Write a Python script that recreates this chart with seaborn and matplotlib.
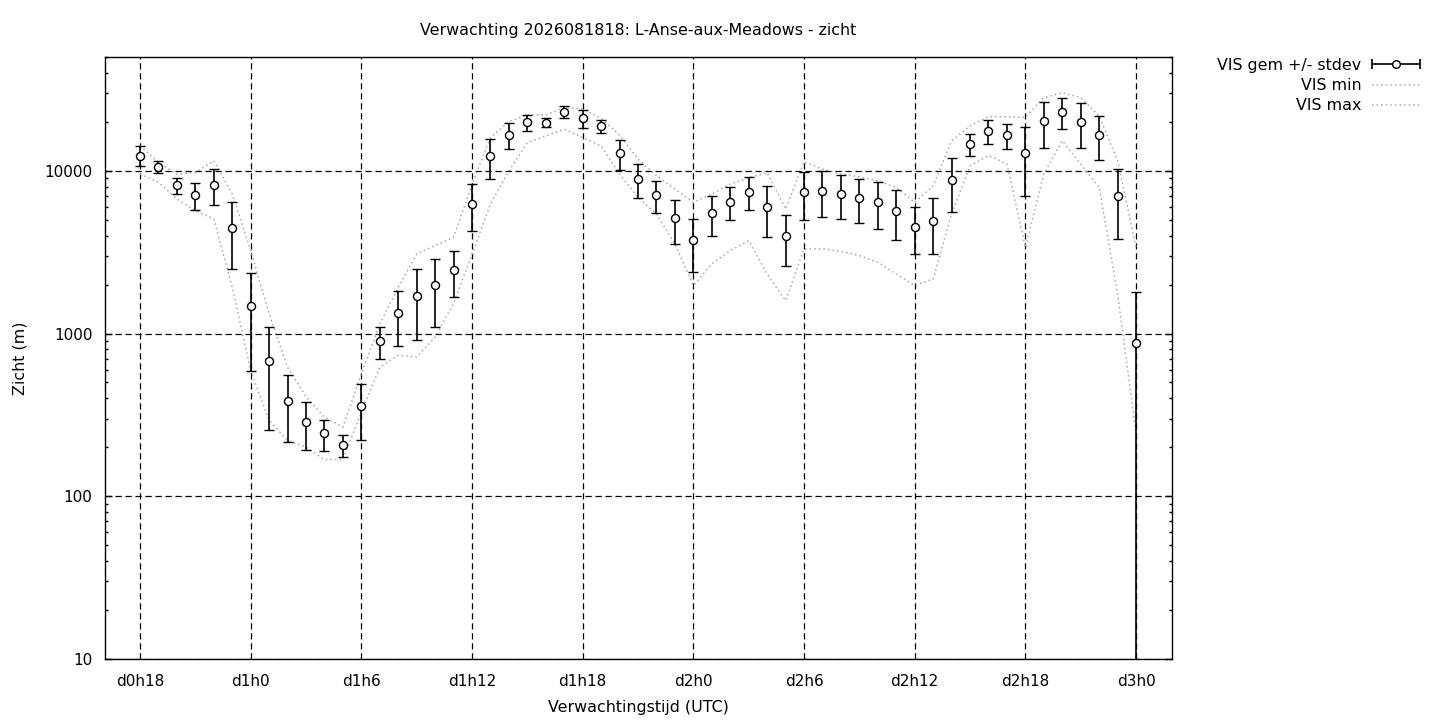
import matplotlib
matplotlib.use("Agg")
import matplotlib.pyplot as plt
import numpy as np
import seaborn as sns
from matplotlib.legend_handler import HandlerBase
from matplotlib.lines import Line2D
from matplotlib.ticker import LogLocator, NullFormatter

# forecast hours (hours after run start), one member summary per hour
hours = list(range(18, 73))

vis_mean = [12400, 10600, 8130, 7070, 8200, 4450, 1470, 675, 387, 286,
            243, 207, 357, 896, 1330, 1700, 1990, 2450, 6280, 12300,
            16600, 19800, 19700, 23100, 21000, 18800, 12800, 8900, 7080, 5100,
            3730, 5490, 6460, 7450, 5990, 3980, 7370, 7550, 7230, 6810,
            6460, 5660, 4510, 4910, 8820, 14600, 17500, 16500, 12800, 20100,
            23000, 19900, 16600, 7030, 870]

vis_std = [1750, 900, 930, 1330, 2040, 1975, 884, 420, 172, 93,
           52, 32, 134, 197, 491, 782, 887, 765, 2010, 3380,
           3015, 2180, 1250, 1960, 2600, 1675, 2665, 2080, 1570, 1537,
           1343, 1511, 1480, 1705, 2068, 1373, 2390, 2350, 2178, 2034,
           2068, 1906, 1445, 1848, 3243, 2245, 2885, 2875, 5770, 6310,
           4955, 6120, 5015, 3215, 940]

vis_min = [9545, 8480, 6700, 5690, 5055, 1920, 590, 292, 220, 200,
           168, 168, 330, 620, 736, 717, 950, 1530, 3080, 6250,
           10000, 14900, 16400, 18000, 16000, 14200, 9545, 6860, 5420, 3550,
           1970, 2680, 3230, 3720, 2320, 1590, 3310, 3310, 3200, 3010,
           2740, 2320, 1970, 2160, 5420, 10700, 12400, 11000, 3380, 9545,
           15300, 11000, 7900, 1750, 245]

vis_max = [14230, 11240, 9545, 9760, 11520, 7190, 3230, 1320, 620, 408,
           306, 266, 565, 1145, 1920, 3080, 3470, 3900, 8290, 16000,
           20060, 22060, 22000, 24500, 24000, 21000, 16600, 11800, 9320, 7720,
           6390, 7190, 8290, 9020, 9760, 5820, 11360, 10240, 9545, 9190,
           8680, 7900, 6390, 8090, 15270, 18880, 21500, 21440, 21230, 28140,
           30200, 28140, 21740, 11520, 3380]

tick_hours = list(range(18, 73, 6))
tick_labels = [f"d{h // 24}h{h % 24}" for h in tick_hours]
y_ticks = [10, 100, 1000, 10000]
y_labels = ["10", "100", "1000", "10000"]


class CapBarHandler(HandlerBase):
    # gnuplot style key sample: |--o--|
    def create_artists(self, legend, orig_handle, xdescent, ydescent,
                       width, height, fontsize, trans):
        x0, x1 = -xdescent, width - xdescent
        y = (height - ydescent) / 2
        bar = Line2D([x0, x1], [y, y], color="black", lw=1.2)
        caps = Line2D([x0, x1], [y, y], ls="none", marker="|", ms=7,
                      mew=1.2, color="black")
        dot = Line2D([(x0 + x1) / 2], [y], ls="none", marker="o", ms=5.5,
                     mfc="white", mec="black", mew=1)
        for a in (bar, caps, dot):
            a.set_transform(trans)
        return [bar, caps, dot]


sns.set_theme(style="white")
plt.rcParams["font.family"] = ["DejaVu Sans"]
plt.rcParams.update({"text.color": "black", "axes.labelcolor": "black",
                     "xtick.color": "black", "ytick.color": "black"})

fig = plt.figure(figsize=(14.4, 7.2), dpi=100)
ax = fig.add_axes([0.07292, 0.08472, 0.74097, 0.83611])

dots = dict(color="#a8a8a8", linestyle=(0, (1, 2)), linewidth=1.1)
sns.lineplot(x=hours, y=vis_min, ax=ax, **dots)
sns.lineplot(x=hours, y=vis_max, ax=ax, **dots)
ax.errorbar(hours, vis_mean, yerr=vis_std, fmt="o", color="black",
            ms=5.8, mfc="white", mec="black", mew=1, elinewidth=1.2,
            capsize=3.5, capthick=1.2, zorder=3)

ax.set_yscale("log")
ax.set_ylim(10, 50000)
ax.set_xlim(16.1, 73.95)

ax.set_xticks(tick_hours)
ax.set_xticklabels(tick_labels)
ax.set_yticks(y_ticks)
ax.set_yticklabels(y_labels)
ax.yaxis.set_minor_locator(LogLocator(subs=np.arange(2, 10)))
ax.yaxis.set_minor_formatter(NullFormatter())

ax.tick_params(axis="y", which="both", direction="in", left=True,
               right=True, color="black", labelcolor="black",
               labelsize=11, pad=9)
ax.tick_params(axis="y", which="major", length=5, width=1)
ax.tick_params(axis="y", which="minor", length=2.5, width=1)
ax.tick_params(axis="x", length=0, labelsize=11, labelcolor="black", pad=11)

ax.grid(True, which="major", color="black", linestyle=(0, (5, 3)),
        linewidth=0.9)
for sp in ax.spines.values():
    sp.set_color("black")
    sp.set_linewidth(1)

ax.set_title("Verwachting 2026081818: L-Anse-aux-Meadows - zicht",
             fontsize=11.4, pad=16, color="black")
ax.set_xlabel("Verwachtingstijd (UTC)", fontsize=11.4, labelpad=8)
ax.set_ylabel("Zicht (m)", fontsize=11.4, labelpad=12)

err_proxy = Line2D([], [], color="black")
min_proxy = Line2D([], [], **dots)
max_proxy = Line2D([], [], **dots)
fig.legend(handles=[err_proxy, min_proxy, max_proxy],
           labels=["VIS gem +/- stdev", "VIS min", "VIS max"],
           handler_map={err_proxy: CapBarHandler()},
           loc="upper right", bbox_to_anchor=(1420 / 1440, 1 - 58 / 720),
           frameon=False, markerfirst=False, fontsize=11.4,
           handlelength=3.05, handletextpad=0.65, labelspacing=0.33,
           borderpad=0, borderaxespad=0, labelcolor="black")

fig.savefig("out.png", dpi=100)
